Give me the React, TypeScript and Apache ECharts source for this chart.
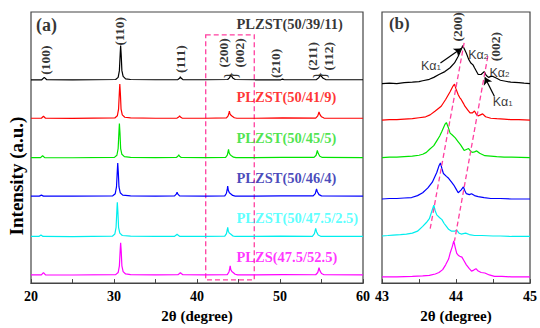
import React, { useEffect, useRef } from "react";
import * as echarts from "echarts";

// ---------- data ----------
const SAMPLES = ["PLZST(50/39/11)", "PLZST(50/41/9)", "PLZST(50/45/5)", "PLZST(50/46/4)", "PLZST(50/47.5/2.5)", "PLZS(47.5/52.5)"];
const LINE_COLORS = ["#000000", "#ff0000", "#00e400", "#0000ff", "#00eeee", "#ff00ff"];
const TEXT_COLORS = ["#000000", "#ff0000", "#22dd22", "#1a1aaa", "#33ffff", "#ff00ff"];

// vertical stacking offsets (a.u.)
const OFFSETS_A = [211, 171, 130, 90, 48, 8];
const OFFSETS_B = [207, 169, 130, 87, 48, 6];

// panel (a): 2θ, intensity (a.u.)
const A_BLACK = [[20,0.5],[21.3,0.5],[21.6,3],[21.9,0.5],[25,0.3],[30.2,0.8],[30.5,3],[30.65,10],[30.75,28],[30.8,36],[30.87,26],[30.95,10],[31.1,4],[31.4,1.5],[32,0.8],[35,0.5],[37.7,0.7],[37.9,2],[38.0,3.5],[38.1,2],[38.3,0.7],[41,0.5],[43.7,0.8],[43.9,2.5],[44.05,5],[44.15,4.5],[44.35,2],[44.6,0.8],[47,0.5],[50.1,0.5],[50.3,1.2],[50.5,0.5],[54.4,0.7],[54.65,2.5],[54.85,5],[54.95,4.5],[55.2,2],[55.5,0.7],[60,0.5]];
const A_RED = [[20,0.5],[21.25,0.5],[21.5,2.5],[21.75,0.5],[25,0.4],[30.1,0.8],[30.4,3],[30.55,10],[30.65,28],[30.7,36],[30.77,26],[30.85,10],[31.0,4],[31.3,1.5],[32,0.8],[35,0.5],[37.6,0.7],[37.8,1.8],[37.9,3],[38.0,1.8],[38.2,0.7],[41,0.5],[43.55,0.8],[43.75,3],[43.85,6],[43.9,8],[43.97,5],[44.1,3.5],[44.25,2.5],[44.5,1],[44.8,0.5],[47,0.5],[50.3,0.8],[54.3,0.7],[54.55,3],[54.7,7],[54.8,4.5],[55.0,2],[55.3,0.7],[60,0.5]];
const A_GREEN = [[20,0.5],[21.15,0.5],[21.4,2.5],[21.65,0.5],[25,0.4],[30.05,0.8],[30.35,3],[30.5,10],[30.6,28],[30.65,36],[30.72,26],[30.8,10],[30.95,4],[31.25,1.5],[32,0.8],[35,0.5],[37.5,0.7],[37.7,2],[37.8,3.5],[37.9,2],[38.1,0.7],[41,0.5],[43.45,0.8],[43.65,3],[43.75,7],[43.8,9],[43.87,5.5],[44.0,3.5],[44.15,2.5],[44.4,1],[44.7,0.5],[47,0.5],[50.2,0.8],[54.1,0.7],[54.35,3],[54.5,8],[54.6,5],[54.8,2],[55.1,0.7],[60,0.5]];
const A_BLUE = [[20,0.5],[21.0,0.5],[21.25,1.5],[21.5,0.5],[25,0.4],[29.85,0.8],[30.15,3],[30.3,10],[30.4,27],[30.45,35],[30.52,25],[30.6,10],[30.75,4],[31.05,1.5],[32,0.8],[35,0.5],[37.3,0.7],[37.5,2.5],[37.6,4.5],[37.7,2.5],[37.9,0.7],[41,0.5],[43.35,0.8],[43.55,3.5],[43.65,8],[43.7,11],[43.77,6.5],[43.9,4],[44.05,3],[44.3,1.2],[44.6,0.5],[47,0.5],[50.1,0.8],[54.0,0.7],[54.25,3],[54.4,8],[54.5,5],[54.7,2],[55.0,0.7],[60,0.5]];
const A_CYAN = [[20,0.5],[20.95,0.5],[21.2,2],[21.45,0.5],[25,0.4],[29.8,0.8],[30.1,3],[30.25,10],[30.35,28],[30.4,36],[30.47,26],[30.55,10],[30.7,4],[31.0,1.5],[32,0.8],[35,0.5],[37.3,0.7],[37.5,2],[37.6,3],[37.7,2],[37.9,0.7],[41,0.5],[43.35,0.8],[43.55,3.5],[43.65,7.5],[43.7,10],[43.77,6],[43.9,4],[44.05,3],[44.3,1.2],[44.6,0.5],[47,0.5],[50.1,0.8],[53.9,0.7],[54.15,3.5],[54.3,9],[54.4,5.5],[54.6,2],[54.9,0.7],[60,0.5]];
const A_MAGENTA = [[20,0.5],[21.25,0.5],[21.5,3],[21.75,0.5],[25,0.4],[30.2,0.8],[30.5,3],[30.65,10],[30.75,27],[30.8,34],[30.87,25],[30.95,10],[31.1,4],[31.4,1.5],[32,0.8],[35,0.5],[37.7,0.7],[37.9,2],[38.0,3],[38.1,2],[38.3,0.7],[41,0.5],[43.65,0.8],[43.85,3.5],[43.95,7.5],[44.0,10],[44.07,6],[44.2,4],[44.35,3],[44.6,1.2],[44.9,0.5],[47,0.5],[50.3,0.8],[54.3,0.7],[54.55,3],[54.7,8],[54.8,5],[55.0,2],[55.3,0.7],[60,0.5]];

// panel (b): zoom of 43–45°
const B_BLACK = [[43.0,0.5],[43.1,1],[43.2,0.5],[43.3,1.5],[43.41,2],[43.5,2.5],[43.55,3.5],[43.64,5],[43.7,7],[43.77,10],[43.85,13],[43.92,17],[43.98,22],[44.03,29],[44.07,36],[44.09,40],[44.11,37],[44.14,32],[44.17,26],[44.2,22],[44.23,20],[44.25,17],[44.3,10],[44.34,10],[44.38,13],[44.41,9],[44.44,7],[44.47,8],[44.5,8],[44.55,6],[44.6,4],[44.67,3],[44.74,2],[44.85,1.5],[44.92,1],[45,0.5]];
const B_RED = [[43.0,0.5],[43.1,1],[43.2,1],[43.3,1.5],[43.41,2],[43.5,3],[43.59,4],[43.65,6],[43.72,10],[43.8,15],[43.86,22],[43.92,30],[43.96,36],[43.98,38],[44.0,33],[44.03,27],[44.05,24],[44.07,22],[44.1,18],[44.12,15],[44.16,11],[44.19,8],[44.22,8],[44.25,10],[44.28,6],[44.3,5],[44.33,6],[44.36,7],[44.4,4],[44.47,2.5],[44.55,2],[44.65,1.5],[44.74,1],[44.85,1],[45,0.5]];
const B_GREEN = [[43.0,0.5],[43.1,1],[43.2,1],[43.3,1.5],[43.41,2],[43.5,3],[43.55,4],[43.6,6],[43.64,9],[43.7,13],[43.74,18],[43.78,23],[43.81,28],[43.85,35],[43.87,37],[43.9,31],[43.92,26],[43.95,24],[43.99,21],[44.03,17],[44.06,14],[44.11,8],[44.14,9],[44.17,10],[44.2,7],[44.22,6],[44.25,6.5],[44.28,7.5],[44.32,5],[44.39,2.5],[44.47,2],[44.55,1.5],[44.65,1],[44.75,1],[45,0.5]];
const B_BLUE = [[43.0,0.5],[43.1,1],[43.2,1],[43.3,1.5],[43.4,2],[43.48,4],[43.55,7],[43.62,12],[43.68,18],[43.74,28],[43.77,35],[43.79,38],[43.81,32],[43.83,27],[43.87,24],[43.9,22],[43.94,18],[43.97,15],[44.0,11],[44.03,7],[44.07,10],[44.1,13],[44.12,9],[44.14,6],[44.18,5],[44.21,6],[44.25,4],[44.3,3],[44.38,2],[44.47,1],[44.6,1],[44.75,0.5],[45,0.5]];
const B_CYAN = [[43.0,1],[43.08,1.5],[43.15,2],[43.25,2.5],[43.33,3],[43.41,4],[43.48,6],[43.55,11],[43.6,15],[43.64,19],[43.67,26],[43.7,33],[43.72,27],[43.74,23],[43.78,20],[43.81,18],[43.84,14],[43.87,11],[43.9,8],[43.94,6],[43.98,6],[44.01,7],[44.04,4],[44.07,3],[44.1,3.5],[44.13,4],[44.18,2.5],[44.25,1.5],[44.35,1.5],[44.5,1],[44.6,1],[44.75,0.5],[45,0.5]];
const B_MAGENTA = [[43.0,0.5],[43.2,0.5],[43.41,1],[43.55,1.5],[43.64,2],[43.72,3.5],[43.77,5],[43.82,8],[43.86,13],[43.9,19],[43.92,25],[43.95,32],[43.97,38],[43.99,31],[44.01,25],[44.03,23],[44.05,22],[44.08,21],[44.11,17],[44.14,13],[44.18,9],[44.21,6.5],[44.24,7.5],[44.27,9],[44.3,6.5],[44.34,5],[44.39,4.5],[44.45,2.5],[44.52,1],[44.62,1],[44.75,0.5],[45,0.5]];

const PATTERNS_A = [A_BLACK, A_RED, A_GREEN, A_BLUE, A_CYAN, A_MAGENTA];
const PATTERNS_B = [B_BLACK, B_RED, B_GREEN, B_BLUE, B_CYAN, B_MAGENTA];

// annotations (data coordinates)
const HKL_A = ["(100)", "(110)", "(111)", "(200)", "(002)", "(210)", "(211)", "(112)"];
const HKL_A_X = [21.7, 30.72, 38.07, 43.17, 45.18, 49.4, 53.94, 55.9];
const HKL_A_Y = [232, 262, 233, 239.5, 239.5, 228.5, 236, 236];
const BRACE_X = [44.1, 54.85];
const SAMPLE_LABEL_X = 44.76;
const SAMPLE_LABEL_Y = [269, 194, 150.5, 109, 68, 27.5];
const HKL_B = ["(200)", "(002)"];
const HKL_B_X = [44.02, 44.54];
const HKL_B_Y = [266.5, 246];
const KA_SUB = ["1", "2", "2", "1"];
const KA_X = [43.526, 44.166, 44.453, 44.497];
const KA_Y = [226, 237.3, 219, 189];
const ARROWS_B = [[[43.79, 229], [44.07, 244]], [[44.52, 194], [44.39, 214]]];
const GUIDES_B = [[[44.11, 250], [43.645, 54]], [[44.43, 236], [43.98, 44]]];
const BOX_A = [[41.05, 258.3], [46.9, 3.3]];

const SERIF = "'Liberation Serif', 'Times New Roman', serif";
const SANS = "'Liberation Sans', Arial, sans-serif";
const PINK = "#ff3fa0";
const AXIS_COLOR = "#444";

export default function App() {
  const ref = useRef<HTMLDivElement>(null);
  useEffect(() => {
    document.body.style.margin = "0";
    const chart = echarts.init(ref.current!, null, { renderer: "svg" });

    const xAxisBase = (gridIndex: number, min: number, max: number, interval: number) => ({
      gridIndex, type: "value", min, max, interval,
      axisLine: { show: true, lineStyle: { color: AXIS_COLOR, width: 1.2 } },
      axisTick: { show: true, inside: true, length: 4, lineStyle: { color: AXIS_COLOR, width: 1 } },
      minorTick: { show: true, splitNumber: 2, length: 4, lineStyle: { color: AXIS_COLOR, width: 1 } },
      splitLine: { show: false },
      axisLabel: { color: "#000", fontFamily: SERIF, fontWeight: "bold", fontSize: 14, margin: 6 },
      name: "2θ (degree)", nameLocation: "middle", nameGap: 20,
      nameTextStyle: { color: "#000", fontFamily: SERIF, fontWeight: "bold", fontSize: 15 },
    });
    const yAxisBase = (gridIndex: number) => ({
      gridIndex, type: "value", min: 0, max: 282,
      axisLine: { show: false }, axisTick: { show: false }, axisLabel: { show: false }, splitLine: { show: false },
    });

    const series: any[] = [];
    PATTERNS_A.forEach((p, i) => {
      const s: any = {
        type: "line", xAxisIndex: 0, yAxisIndex: 0, symbol: "none", silent: true,
        lineStyle: { color: LINE_COLORS[i], width: 1.2 }, itemStyle: { color: LINE_COLORS[i] },
        data: p.map(([x, y]) => [x, y + OFFSETS_A[i]]),
      };
      if (i === 5) {
        s.markArea = {
          silent: true,
          itemStyle: { color: "rgba(0,0,0,0)", borderColor: PINK, borderWidth: 1.3, borderType: [5, 3] },
          label: { show: false },
          data: [[{ coord: BOX_A[0] }, { coord: BOX_A[1] }]],
        };
      }
      series.push(s);
    });
    PATTERNS_B.forEach((p, i) => {
      const s: any = {
        type: "line", xAxisIndex: 1, yAxisIndex: 1, symbol: "none", silent: true,
        lineStyle: { color: LINE_COLORS[i], width: 1.2 }, itemStyle: { color: LINE_COLORS[i] },
        data: p.map(([x, y]) => [x, y + OFFSETS_B[i]]),
      };
      if (i === 0) {
        s.markLine = {
          silent: true, symbol: ["none", "arrow"], symbolSize: 7,
          lineStyle: { color: "#000", width: 1.2, type: "solid" }, label: { show: false },
          data: ARROWS_B.map(([a, b]) => [{ coord: a }, { coord: b }]),
        };
      }
      if (i === 5) {
        s.markLine = {
          silent: true, symbol: ["none", "none"],
          lineStyle: { color: PINK, width: 1.3, type: [5, 3] }, label: { show: false },
          data: GUIDES_B.map(([a, b]) => [{ coord: a }, { coord: b }]),
        };
      }
      series.push(s);
    });

    const labelScatter = (xi: number, data: any[], label: any) => ({
      type: "scatter", xAxisIndex: xi, yAxisIndex: xi, symbolSize: 1, silent: true,
      itemStyle: { color: "rgba(0,0,0,0)" }, z: 5,
      label: { show: true, position: "inside", formatter: "{b}", ...label },
      data,
    });

    series.push(labelScatter(0, HKL_A.map((t, i) => ({ name: t, value: [HKL_A_X[i], HKL_A_Y[i]] })),
      { rotate: 90, fontFamily: SERIF, fontWeight: "bold", fontSize: 13.5, color: "#000" }));
    series.push(labelScatter(0, BRACE_X.map((x) => ({ name: "}", value: [x, OFFSETS_A[0] + 5] })),
      { rotate: 90, fontFamily: SERIF, fontSize: 18, color: "#000" }));
    series.push(labelScatter(0, SAMPLES.map((t, i) => ({ name: t, value: [SAMPLE_LABEL_X, SAMPLE_LABEL_Y[i]], label: { color: TEXT_COLORS[i] } })),
      { align: "left", verticalAlign: "middle", fontFamily: SERIF, fontWeight: "bold", fontSize: 14.5 }));
    series.push(labelScatter(0, [{ name: "(a)", value: [20.6, 268] }],
      { align: "left", verticalAlign: "middle", fontFamily: SERIF, fontWeight: "bold", fontSize: 18, color: "#000" }));
    series.push(labelScatter(1, [{ name: "(b)", value: [43.093, 270] }],
      { align: "left", verticalAlign: "middle", fontFamily: SERIF, fontWeight: "bold", fontSize: 17, color: "#000" }));
    series.push(labelScatter(1, HKL_B.map((t, i) => ({ name: t, value: [HKL_B_X[i], HKL_B_Y[i]] })),
      { rotate: 90, fontFamily: SERIF, fontWeight: "bold", fontSize: 13.5, color: "#000" }));
    series.push(labelScatter(1, KA_SUB.map((t, i) => ({ name: t, value: [KA_X[i], KA_Y[i]] })),
      {
        align: "left", verticalAlign: "middle",
        formatter: (p: any) => `{k|Kα}{s|${p.name}}`,
        rich: {
          k: { fontFamily: SANS, fontSize: 12.5, lineHeight: 12, verticalAlign: "top", color: "#000" },
          s: { fontFamily: SANS, fontSize: 8, lineHeight: 8, padding: [6, 0, 0, 0], verticalAlign: "bottom", color: "#000" },
        },
      }));

    chart.setOption({
      animation: false,
      grid: [
        { left: 31, right: 177, top: 12, bottom: 34, show: true, borderColor: AXIS_COLOR, borderWidth: 1.2 },
        { left: 382, right: 7, top: 12, bottom: 34, show: true, borderColor: AXIS_COLOR, borderWidth: 1.2 },
      ],
      xAxis: [xAxisBase(0, 20, 60, 10), xAxisBase(1, 43, 45, 1)],
      yAxis: [yAxisBase(0), yAxisBase(1)],
      graphic: [
        {
          type: "text", x: 16, y: 176, rotation: Math.PI / 2,
          style: { text: "Intensity (a.u.)", fill: "#000", font: `bold 19px ${SERIF}`, align: "center", verticalAlign: "middle" },
        },
      ],
      series,
    });
    return () => chart.dispose();
  }, []);
  return <div ref={ref} style={{ width: 540, height: 328 }} />;
}
